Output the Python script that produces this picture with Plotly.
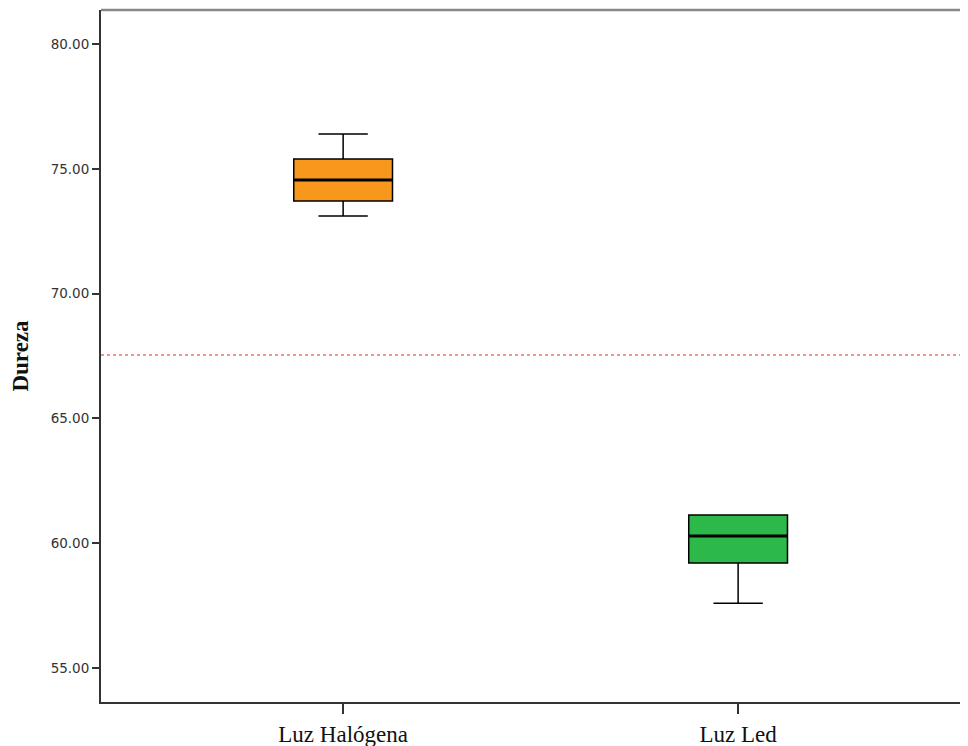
import plotly.graph_objects as go

categories = ["Luz Halógena", "Luz Led"]
lower_whisker = [73.11, 57.60]
q1 = [73.71, 59.21]
median = [74.55, 60.29]
q3 = [75.39, 61.13]
upper_whisker = [76.39, 61.13]
fill_colors = ["#f7981d", "#2db84a"]
reference_line = 67.54

fig = go.Figure()
for i, cat in enumerate(categories):
    fig.add_trace(go.Box(
        x=[cat], q1=[q1[i]], median=[median[i]], q3=[q3[i]],
        lowerfence=[lower_whisker[i]], upperfence=[upper_whisker[i]],
        fillcolor=fill_colors[i], line=dict(color="#000000", width=1.5),
        width=0.25, whiskerwidth=0.5, boxpoints=False, showlegend=False,
        hoverinfo="skip",
    ))

fig.add_trace(go.Scatter(
    x=categories, y=median, mode="markers",
    marker=dict(symbol="line-ew", size=70, line=dict(color="#000000", width=3)),
    showlegend=False, hoverinfo="skip",
))

fig.add_hline(y=reference_line, line=dict(color="#f07070", width=1.5, dash="dot"))
fig.add_shape(type="line", xref="paper", yref="paper", x0=0, x1=1, y0=1, y1=1,
              line=dict(color="#888888", width=2.5))

fig.update_layout(
    width=960, height=738,
    margin=dict(l=93, r=0, t=2, b=44),
    plot_bgcolor="white", paper_bgcolor="white",
    font=dict(family="DejaVu Sans", color="#222222"),
)
fig.update_xaxes(
    range=[-0.613, 1.582], showgrid=False, zeroline=False,
    showline=True, linecolor="#333333", linewidth=2,
    ticks="outside", ticklen=10, tickwidth=2, tickcolor="#333333",
    tickfont=dict(family="Liberation Serif", size=23, color="#111111"),
)
fig.update_yaxes(
    range=[53.64, 81.36], tickvals=[55, 60, 65, 70, 75, 80], tickformat=".2f",
    showgrid=False, zeroline=False,
    showline=True, linecolor="#333333", linewidth=2,
    ticks="outside", ticklen=7, tickwidth=2, tickcolor="#333333",
    tickfont=dict(family="DejaVu Sans", size=13.5, color="#333333"),
    title=dict(text="<b>Dureza</b>", font=dict(family="Liberation Serif", size=23, color="#111111"), standoff=16),
)

fig.write_html("out.html")
